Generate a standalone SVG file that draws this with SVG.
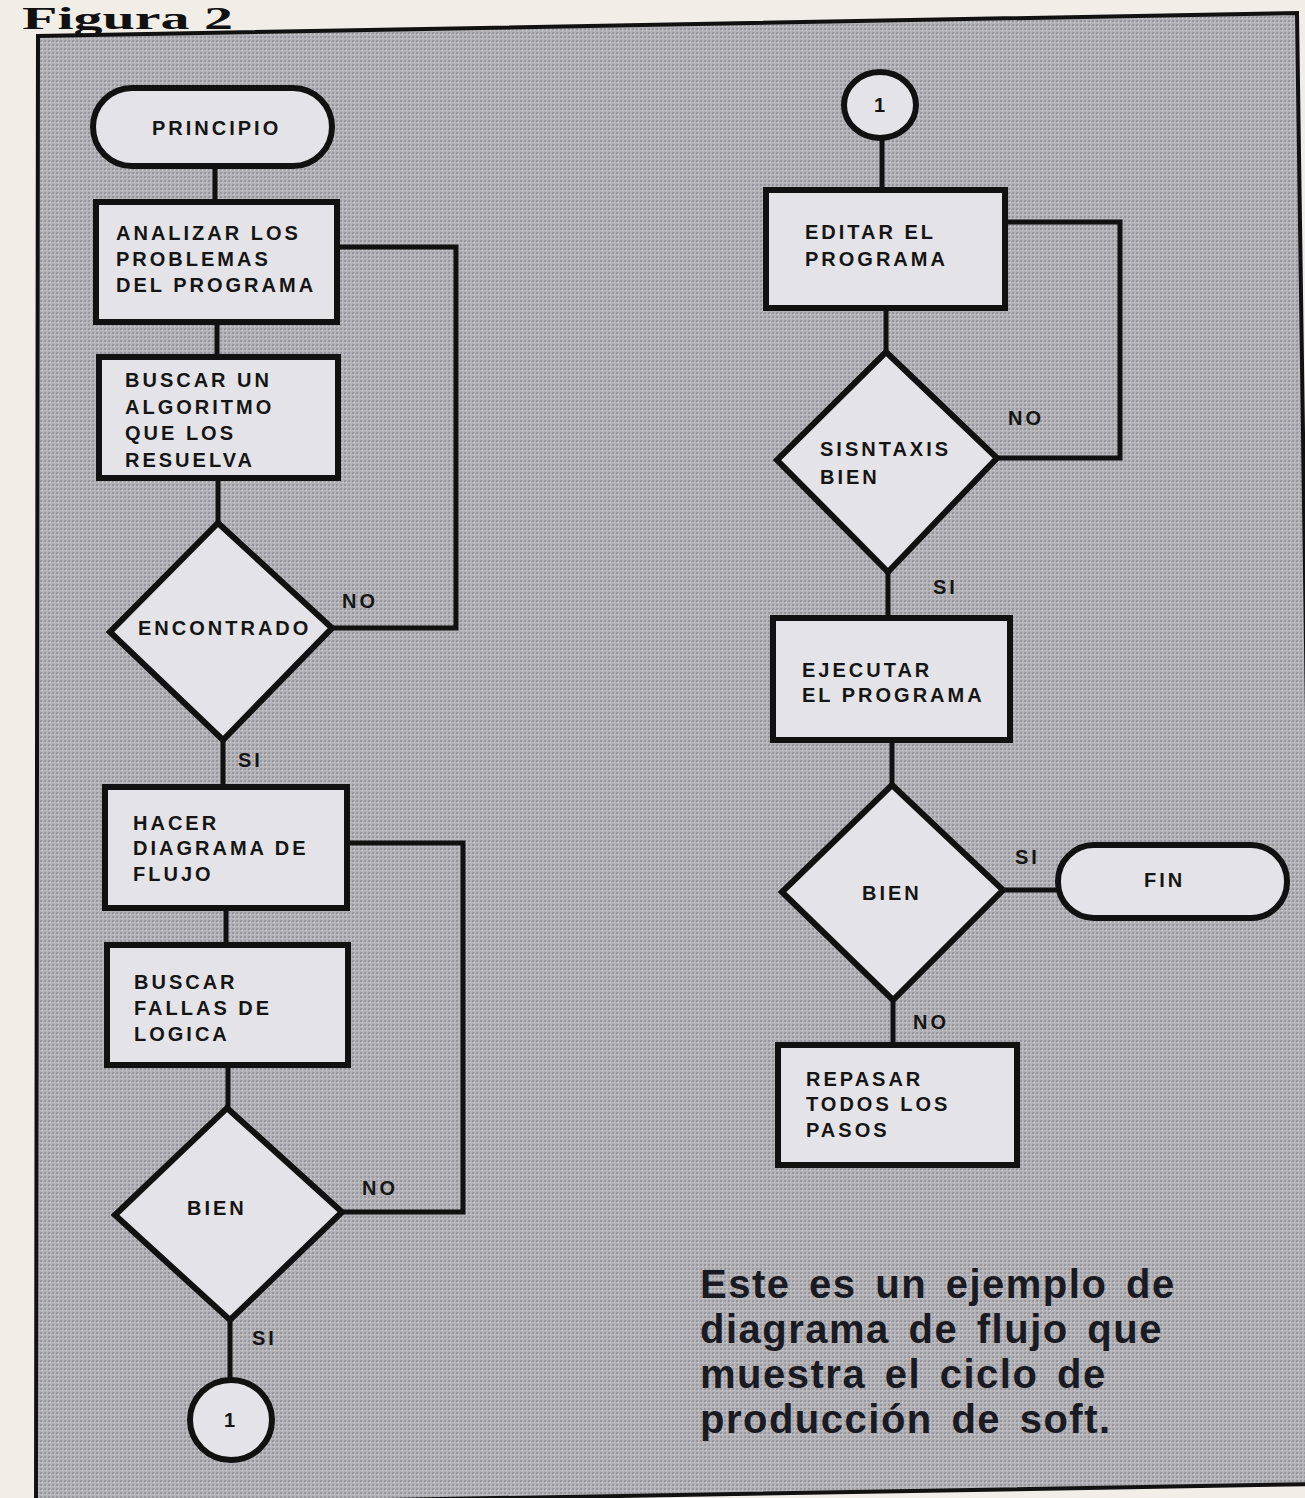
<svg xmlns="http://www.w3.org/2000/svg" width="1305" height="1498" viewBox="0 0 1305 1498">
<defs>
<pattern id="dots" width="4" height="4" patternUnits="userSpaceOnUse">
<rect width="4" height="4" fill="#b3b2b7"/>
<rect x="0" y="0" width="2" height="2" fill="#98979e"/>
<rect x="2" y="2" width="1" height="1" fill="#cfced2"/>
</pattern>
<style>
.node{fill:#e4e3e7;stroke:#111;stroke-width:6;stroke-linejoin:miter}
.lbl{font-family:"Liberation Sans",Arial,sans-serif;font-weight:bold;font-size:20px;letter-spacing:3px;fill:#151515}
.edge{fill:none;stroke:#111;stroke-width:5;stroke-linejoin:miter}
.cap{font-family:"Liberation Sans",Arial,sans-serif;font-weight:bold;font-size:40px;letter-spacing:1.5px;word-spacing:6px;fill:#1a1a22}
</style>
</defs>
<rect width="1305" height="1498" fill="#f1eee8"/>
<text x="22" y="29" font-family="'Liberation Serif','Times New Roman',serif" font-weight="bold" font-size="32" fill="#111" textLength="211" lengthAdjust="spacingAndGlyphs">Figura 2</text>
<polygon points="38,36 1297,13 1318,1484 36,1506" fill="url(#dots)" stroke="#111" stroke-width="4"/>

<g id="connectors">
<path class="edge" d="M215,166 V202"/>
<path class="edge" d="M217,322 V357"/>
<path class="edge" d="M218,478 V523"/>
<path class="edge" d="M332,628 H456 V247 H337"/>
<path class="edge" d="M223,740 V787"/>
<path class="edge" d="M226,908 V945"/>
<path class="edge" d="M228,1065 V1108"/>
<path class="edge" d="M342,1212 H463 V843 H347"/>
<path class="edge" d="M230,1320 V1380"/>
<path class="edge" d="M882,138 V190"/>
<path class="edge" d="M886,308 V352"/>
<path class="edge" d="M997,458 H1120 V222 H1005"/>
<path class="edge" d="M888,572 V618"/>
<path class="edge" d="M892,740 V785"/>
<path class="edge" d="M1003,890 H1058"/>
<path class="edge" d="M893,1000 V1045"/>
<text class="lbl" x="342" y="608">NO</text>
<text class="lbl" x="238" y="767">SI</text>
<text class="lbl" x="362" y="1195">NO</text>
<text class="lbl" x="252" y="1345">SI</text>
<text class="lbl" x="1008" y="425">NO</text>
<text class="lbl" x="933" y="594">SI</text>
<text class="lbl" x="1015" y="864">SI</text>
<text class="lbl" x="913" y="1029">NO</text>
</g>

<g id="principio">
<rect class="node" x="93" y="88" width="239" height="78" rx="39" ry="39"/>
<text class="lbl" x="152" y="135">PRINCIPIO</text>
</g>
<g id="analizar">
<rect class="node" x="96" y="202" width="241" height="120"/>
<text class="lbl" x="116" y="240">ANALIZAR LOS</text>
<text class="lbl" x="116" y="266">PROBLEMAS</text>
<text class="lbl" x="116" y="292">DEL PROGRAMA</text>
</g>
<g id="buscar-algoritmo">
<rect class="node" x="99" y="357" width="239" height="121"/>
<text class="lbl" x="125" y="387">BUSCAR UN</text>
<text class="lbl" x="125" y="414">ALGORITMO</text>
<text class="lbl" x="125" y="440">QUE LOS</text>
<text class="lbl" x="125" y="467">RESUELVA</text>
</g>
<g id="encontrado">
<polygon class="node" points="218,523 332,628 223,740 110,632"/>
<text class="lbl" x="138" y="635">ENCONTRADO</text>
</g>
<g id="hacer-diagrama">
<rect class="node" x="105" y="787" width="242" height="121"/>
<text class="lbl" x="133" y="830">HACER</text>
<text class="lbl" x="133" y="855">DIAGRAMA DE</text>
<text class="lbl" x="133" y="881">FLUJO</text>
</g>
<g id="buscar-fallas">
<rect class="node" x="107" y="945" width="241" height="120"/>
<text class="lbl" x="134" y="989">BUSCAR</text>
<text class="lbl" x="134" y="1015">FALLAS DE</text>
<text class="lbl" x="134" y="1041">LOGICA</text>
</g>
<g id="bien-1">
<polygon class="node" points="227,1108 342,1212 230,1320 115,1215"/>
<text class="lbl" x="187" y="1215">BIEN</text>
</g>
<g id="conector-1-a">
<ellipse class="node" cx="231" cy="1420" rx="41" ry="40"/>
<text class="lbl" x="224" y="1427" style="letter-spacing:0">1</text>
</g>

<g id="conector-1-b">
<ellipse class="node" cx="880" cy="105" rx="36" ry="33"/>
<text class="lbl" x="874" y="112" style="letter-spacing:0">1</text>
</g>
<g id="editar">
<rect class="node" x="766" y="190" width="239" height="118"/>
<text class="lbl" x="805" y="239">EDITAR EL</text>
<text class="lbl" x="805" y="266">PROGRAMA</text>
</g>
<g id="sintaxis">
<polygon class="node" points="886,352 997,458 888,572 777,460"/>
<text class="lbl" x="820" y="456">SISNTAXIS</text>
<text class="lbl" x="820" y="484">BIEN</text>
</g>
<g id="ejecutar">
<rect class="node" x="773" y="618" width="237" height="122"/>
<text class="lbl" x="802" y="677">EJECUTAR</text>
<text class="lbl" x="802" y="702">EL PROGRAMA</text>
</g>
<g id="bien-2">
<polygon class="node" points="892,785 1003,890 893,1000 782,892"/>
<text class="lbl" x="862" y="900">BIEN</text>
</g>
<g id="fin">
<rect class="node" x="1058" y="845" width="229" height="73" rx="36" ry="36"/>
<text class="lbl" x="1144" y="887">FIN</text>
</g>
<g id="repasar">
<rect class="node" x="778" y="1045" width="239" height="120"/>
<text class="lbl" x="806" y="1086">REPASAR</text>
<text class="lbl" x="806" y="1111">TODOS LOS</text>
<text class="lbl" x="806" y="1137">PASOS</text>
</g>

<g id="caption">
<text class="cap" x="700" y="1298">Este es un ejemplo de</text>
<text class="cap" x="700" y="1343">diagrama de flujo que</text>
<text class="cap" x="700" y="1388">muestra el ciclo de</text>
<text class="cap" x="700" y="1433">producción de soft.</text>
</g>
</svg>
